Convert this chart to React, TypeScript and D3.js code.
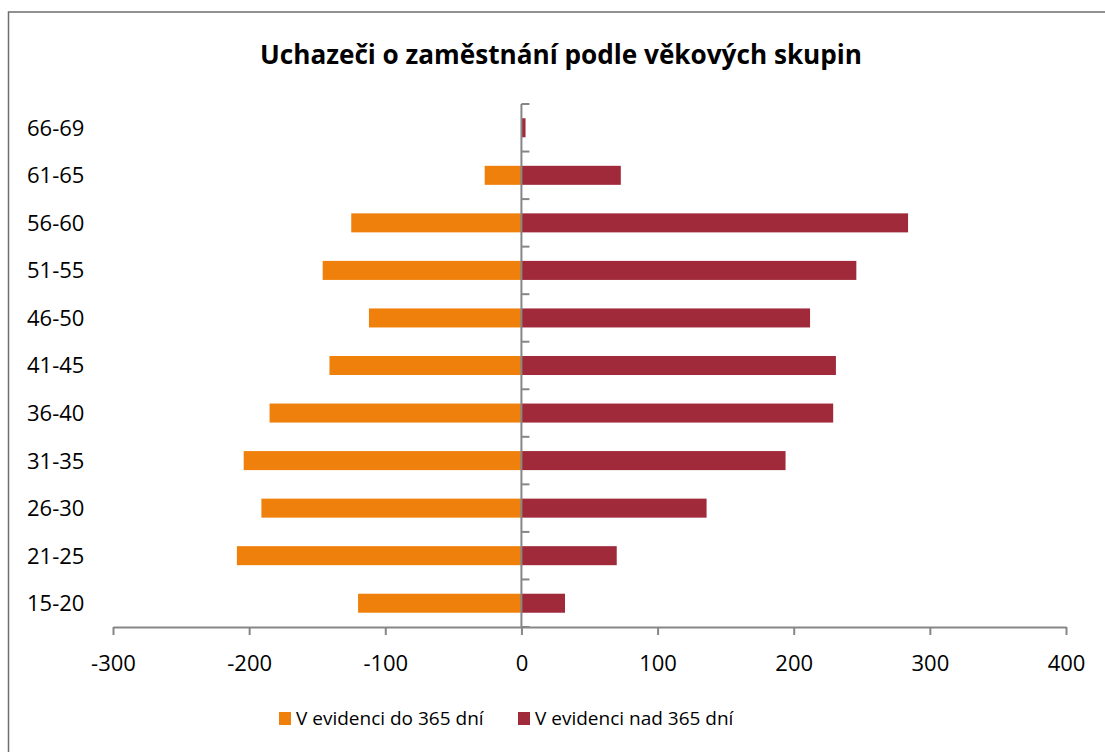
import * as d3 from "d3";
import { useEffect, useRef } from "react";

const categories = ["15-20", "21-25", "26-30", "31-35", "36-40", "41-45", "46-50", "51-55", "56-60", "61-65", "66-69"];
const shortTerm = [-120, -209, -191, -204, -185, -141, -112, -146, -125, -27, 0];
const longTerm = [32, 70, 136, 194, 229, 231, 212, 246, 284, 73, 3];
const seriesNames = ["V evidenci do 365 dní", "V evidenci nad 365 dní"];
const xTicks = [-300, -200, -100, 0, 100, 200, 300, 400];

const COLORS = ["#ef800b", "#a0293a"];
const AXIS = "#868686";
const FONT = "'Open Sans', sans-serif";

export default function App() {
  const ref = useRef<SVGSVGElement>(null);

  useEffect(() => {
    if (!ref.current) return;
    const width = 1105;
    const height = 752;
    const plot = { left: 113, right: 1066, top: 104, bottom: 627 };

    const svg = d3.select(ref.current);
    svg.selectAll("*").remove();
    svg.attr("width", width).attr("height", height);

    svg.append("rect")
      .attr("width", width)
      .attr("height", height)
      .attr("fill", "#fff");

    // outer frame (runs past the right/bottom edge)
    svg.append("rect")
      .attr("x", 8.5)
      .attr("y", 12)
      .attr("width", width + 20)
      .attr("height", height + 20)
      .attr("fill", "none")
      .attr("stroke", "#6e6e6e")
      .attr("stroke-width", 1.5);

    svg.append("text")
      .attr("x", 561)
      .attr("y", 64)
      .attr("text-anchor", "middle")
      .attr("font-family", FONT)
      .attr("font-weight", "bold")
      .attr("font-size", 26)
      .attr("textLength", 602)
      .attr("lengthAdjust", "spacingAndGlyphs")
      .attr("fill", "#000")
      .text("Uchazeči o zaměstnání podle věkových skupin");

    const x = d3.scaleLinear()
      .domain([-300, 400])
      .range([plot.left, plot.right]);

    const y = d3.scaleBand<string>()
      .domain([...categories].reverse())
      .range([plot.top, plot.bottom])
      .paddingInner(0.6)
      .paddingOuter(0.3);

    const rows = categories.map((c, i) => ({ cat: c, a: shortTerm[i], b: longTerm[i] }));

    // bars
    const g = svg.append("g");
    g.selectAll("rect.short")
      .data(rows)
      .enter()
      .append("rect")
      .attr("class", "short")
      .attr("x", d => x(Math.min(0, d.a)))
      .attr("y", d => y(d.cat)!)
      .attr("width", d => Math.abs(x(d.a) - x(0)))
      .attr("height", y.bandwidth())
      .attr("fill", COLORS[0]);

    g.selectAll("rect.long")
      .data(rows)
      .enter()
      .append("rect")
      .attr("class", "long")
      .attr("x", x(0))
      .attr("y", d => y(d.cat)!)
      .attr("width", d => x(d.b) - x(0))
      .attr("height", y.bandwidth())
      .attr("fill", COLORS[1]);

    // X axis
    const xAxis = svg.append("g")
      .attr("transform", `translate(0,${plot.bottom})`)
      .call(d3.axisBottom(x).tickValues(xTicks).tickSize(8).tickSizeOuter(0).tickFormat(d3.format("d")));
    xAxis.select(".domain").attr("stroke", AXIS).attr("stroke-width", 2);
    xAxis.selectAll(".tick line").attr("stroke", AXIS).attr("stroke-width", 2);
    xAxis.selectAll(".tick text")
      .attr("y", 28)
      .attr("dy", "0.71em")
      .attr("font-family", FONT)
      .attr("font-size", 22)
      .attr("fill", "#000")
      .text((d: any) => d3.format("d")(d).replace("−", "-"));

    // Y axis at zero with ticks between bands
    const boundaries = d3.range(categories.length + 1).map(i => plot.top + i * y.step());
    svg.append("line")
      .attr("x1", x(0)).attr("x2", x(0))
      .attr("y1", plot.top).attr("y2", plot.bottom)
      .attr("stroke", AXIS)
      .attr("stroke-width", 2);
    svg.selectAll("line.ytick")
      .data(boundaries)
      .enter()
      .append("line")
      .attr("class", "ytick")
      .attr("x1", x(0)).attr("x2", x(0) + 8)
      .attr("y1", d => d).attr("y2", d => d)
      .attr("stroke", AXIS)
      .attr("stroke-width", 2);

    // category labels
    svg.selectAll("text.cat")
      .data(categories)
      .enter()
      .append("text")
      .attr("class", "cat")
      .attr("x", 27)
      .attr("y", d => y(d)! + y.bandwidth() / 2)
      .attr("dy", "0.36em")
      .attr("font-family", FONT)
      .attr("font-size", 22)
      .attr("fill", "#000")
      .text(d => d);

    // legend
    const legendX = [279, 518];
    const legend = svg.selectAll("g.legend")
      .data(seriesNames)
      .enter()
      .append("g")
      .attr("class", "legend")
      .attr("transform", (_, i) => `translate(${legendX[i]},712)`);
    legend.append("rect")
      .attr("width", 12)
      .attr("height", 13)
      .attr("fill", (_, i) => COLORS[i]);
    legend.append("text")
      .attr("x", 17)
      .attr("y", 13)
      .attr("font-family", FONT)
      .attr("font-size", 19)
      .attr("fill", "#000")
      .text(d => d);
  }, []);

  return (
    <div style={{ position: "absolute", left: 0, top: 0 }}>
      <svg ref={ref} style={{ display: "block" }} />
    </div>
  );
}
